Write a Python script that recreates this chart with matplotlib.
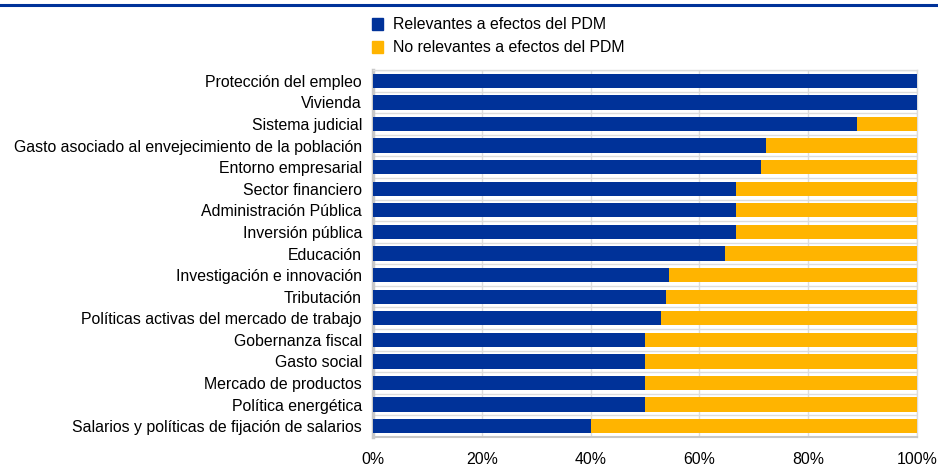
import matplotlib.pyplot as plt
import matplotlib.patches as mpatches
from matplotlib.lines import Line2D
import numpy as np

plt.rcParams["font.family"] = ["Liberation Sans", "DejaVu Sans"]

BLUE = "#003299"
YELLOW = "#FFB400"
GRID = "#dcdcdc"

categories = [
    "Protección del empleo",
    "Vivienda",
    "Sistema judicial",
    "Gasto asociado al envejecimiento de la población",
    "Entorno empresarial",
    "Sector financiero",
    "Administración Pública",
    "Inversión pública",
    "Educación",
    "Investigación e innovación",
    "Tributación",
    "Políticas activas del mercado de trabajo",
    "Gobernanza fiscal",
    "Gasto social",
    "Mercado de productos",
    "Política energética",
    "Salarios y políticas de fijación de salarios",
]

relevantes = [100.0, 100.0, 88.9, 72.2, 71.4, 66.7, 66.7, 66.7, 64.7,
              54.5, 53.8, 52.9, 50.0, 50.0, 50.0, 50.0, 40.0]
no_relevantes = [100.0 - v for v in relevantes]

series_labels = ["Relevantes a efectos del PDM", "No relevantes a efectos del PDM"]
x_ticks = [0, 20, 40, 60, 80, 100]

FS = 11.4

fig = plt.figure(figsize=(9.38, 4.76), dpi=100)
ax = fig.add_axes([373 / 938, 1 - 437 / 476, (917 - 373) / 938, (437 - 70) / 476])

y = np.arange(len(categories))
ax.barh(y, relevantes, height=0.66, color=BLUE, zorder=3)
ax.barh(y, no_relevantes, left=relevantes, height=0.66, color=YELLOW, zorder=3)

ax.set_xlim(0, 100)
ax.set_ylim(len(categories) - 0.5, -0.5)

# light grid: vertical at each tick, horizontal between categories
for xt in x_ticks[1:]:
    ax.axvline(xt, color=GRID, lw=1, zorder=1)
for k in range(len(categories) + 1):
    ax.axhline(k - 0.5, color=GRID, lw=1, zorder=1)

ax.set_yticks(y)
ax.set_yticklabels(categories, fontsize=FS)
ax.set_xticks(x_ticks)
ax.set_xticklabels([f"{t}%" for t in x_ticks], fontsize=FS)
ax.tick_params(axis="both", length=0)
ax.tick_params(axis="y", pad=8)
ax.tick_params(axis="x", pad=11)

for side in ["top", "right"]:
    ax.spines[side].set_color(GRID)
    ax.spines[side].set_linewidth(1)
ax.spines["left"].set_color("#c8c8c8")
ax.spines["left"].set_linewidth(2.5)
ax.spines["bottom"].set_color("#c8c8c8")
ax.spines["bottom"].set_linewidth(1.5)

handles = [mpatches.Patch(color=BLUE), mpatches.Patch(color=YELLOW)]
fig.legend(handles, series_labels, loc="upper left",
           bbox_to_anchor=(366 / 938, 1 - 11 / 476), frameon=False,
           fontsize=FS, handlelength=0.7, handleheight=0.82,
           handletextpad=0.63, labelspacing=0.5, borderaxespad=0)

# dark rule across the top
fig.add_artist(Line2D([0, 1], [1 - 5 / 476, 1 - 5 / 476], color=BLUE, lw=2.2,
                      transform=fig.transFigure))

fig.savefig("out.png", dpi=100)
